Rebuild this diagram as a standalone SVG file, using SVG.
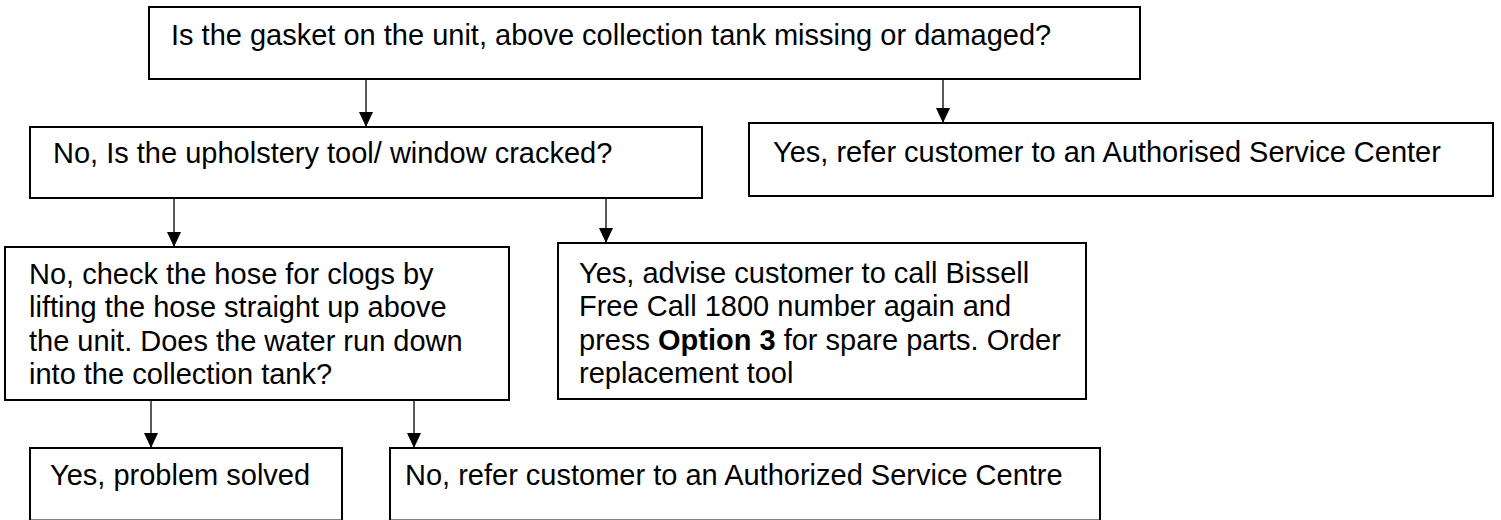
<svg xmlns="http://www.w3.org/2000/svg" width="1501" height="520" viewBox="0 0 1501 520">
  <style>
    .box { fill: #ffffff; stroke: #000000; stroke-width: 2; }
    .lbl { font-family: "Liberation Sans", Arial, sans-serif; font-size: 29px; fill: #000000; }
    .conn { stroke: #000000; stroke-width: 1.3; fill: none; marker-end: url(#arrow); }
  </style>
  <defs>
    <marker id="arrow" markerUnits="userSpaceOnUse" markerWidth="15" markerHeight="14" refX="15" refY="7" orient="auto" viewBox="0 0 15 14">
      <polygon points="0,0 15,7 0,14" fill="#000000"/>
    </marker>
  </defs>
  <rect width="1501" height="520" fill="#ffffff"/>

  <g id="connectors">
    <line class="conn" x1="366" y1="79" x2="366" y2="127"/>
    <line class="conn" x1="943" y1="79" x2="943" y2="123"/>
    <line class="conn" x1="174" y1="198" x2="174" y2="247"/>
    <line class="conn" x1="606" y1="196" x2="606" y2="243"/>
    <line class="conn" x1="151" y1="400" x2="151" y2="448"/>
    <line class="conn" x1="414" y1="400" x2="414" y2="448"/>
  </g>

  <g id="q-gasket">
    <rect class="box" x="149" y="7" width="991" height="72"/>
    <text class="lbl" x="171" y="45">Is the gasket on the unit, above collection tank missing or damaged?</text>
  </g>

  <g id="q-upholstery">
    <rect class="box" x="30" y="127" width="672" height="71"/>
    <text class="lbl" x="53" y="163">No, Is the upholstery tool/ window cracked?</text>
  </g>

  <g id="yes-service-center">
    <rect class="box" x="749" y="123" width="744" height="73"/>
    <text class="lbl" x="773" y="162">Yes, refer customer to an Authorised Service Center</text>
  </g>

  <g id="q-hose">
    <rect class="box" x="5" y="247" width="504" height="153"/>
    <text class="lbl" x="29" y="284">No, check the hose for clogs by</text>
    <text class="lbl" x="29" y="317">lifting the hose straight up above</text>
    <text class="lbl" x="29" y="351">the unit. Does the water run down</text>
    <text class="lbl" x="29" y="384">into the collection tank?</text>
  </g>

  <g id="yes-order-tool">
    <rect class="box" x="558" y="243" width="528" height="156"/>
    <text class="lbl" x="579" y="283">Yes, advise customer to call Bissell</text>
    <text class="lbl" x="579" y="316">Free Call 1800 number again and</text>
    <text class="lbl" x="579" y="350">press <tspan font-weight="bold">Option 3</tspan> for spare parts. Order</text>
    <text class="lbl" x="579" y="383">replacement tool</text>
  </g>

  <g id="yes-solved">
    <rect class="box" x="30" y="448" width="312" height="72.5"/>
    <text class="lbl" x="50" y="485">Yes, problem solved</text>
  </g>

  <g id="no-service-centre">
    <rect class="box" x="390" y="448" width="710" height="72.5"/>
    <text class="lbl" x="405" y="485">No, refer customer to an Authorized Service Centre</text>
  </g>
</svg>
